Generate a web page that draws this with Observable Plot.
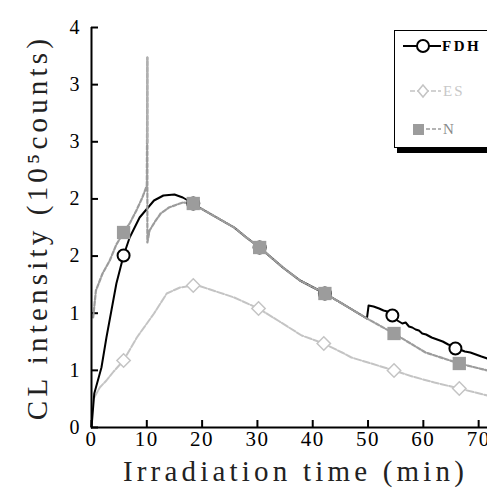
<!DOCTYPE html>
<html>
<head>
<meta charset="utf-8">
<script src="https://cdn.jsdelivr.net/npm/d3@7"></script>
<script src="https://cdn.jsdelivr.net/npm/@observablehq/plot@0.6"></script>
<style>
  html, body { margin: 0; padding: 0; background: #fff; }
  #wrap { position: relative; width: 487px; height: 492px; overflow: hidden; background: #fff; }
  #legend { position: absolute; left: 394px; top: 30px; width: 120px; height: 116px;
            border: 1px solid #000; background: #fff; box-shadow: 3px 5px 0 #000; }
</style>
</head>
<body>
<div id="wrap"><div id="chart"></div><div id="legend"></div></div>
<script>
// ---- data ----
const fdhT = [0, 0.5, 1.8, 2.7, 3.6, 4.5, 5.8, 6.9, 8.7, 11.3, 13.0, 15.0, 16.5, 18.4, 19.8, 22.0, 25.8, 28.0, 30.4, 34.6, 37.7, 42.2, 45.3, 49.8, 50.1, 51.0, 52.0, 52.8, 53.5, 54.4, 55.0, 55.6, 56.2, 56.8, 57.4, 58.0, 58.6, 59.2, 59.8, 60.5, 61.5, 62.5, 63.5, 64.5, 65.0, 65.8, 66.6, 67.5, 68.5, 69.5, 70.5, 71.6];
const fdhY = [0, 0.34, 0.6, 0.9, 1.17, 1.44, 1.72, 1.9, 2.1, 2.27, 2.32, 2.33, 2.30, 2.24, 2.19, 2.12, 2.0, 1.90, 1.80, 1.60, 1.47, 1.34, 1.24, 1.09, 1.22, 1.21, 1.19, 1.17, 1.16, 1.12, 1.08, 1.06, 1.04, 1.05, 1.01, 1.00, 0.98, 0.97, 0.94, 0.93, 0.90, 0.88, 0.86, 0.83, 0.82, 0.79, 0.78, 0.76, 0.75, 0.73, 0.71, 0.69];

const nT = [0.3, 0.8, 2.0, 3.3, 4.5, 5.8, 7.0, 8.2, 9.2, 10.0, 10.1, 10.1, 10.5, 11.5, 12.5, 14.0, 16.5, 18.4, 19.8, 22.0, 25.8, 28.0, 30.4, 34.6, 37.7, 42.2, 45.3, 49.8, 54.7, 60.4, 66.5, 71.6];
const nY = [1.1, 1.37, 1.54, 1.67, 1.83, 1.95, 2.05, 2.18, 2.3, 2.42, 3.70, 1.85, 1.97, 2.06, 2.14, 2.2, 2.25, 2.24, 2.19, 2.12, 2.0, 1.90, 1.80, 1.60, 1.47, 1.34, 1.24, 1.09, 0.94, 0.75, 0.64, 0.57];
// upper, solid part of the N spike at 10 min
const spikeT = [10.1, 10.1];
const spikeY = [2.85, 3.70];

const esT = [0.5, 1.5, 2.7, 4.0, 5.8, 8.2, 11.3, 13.6, 16.0, 18.4, 19.8, 22.0, 25.8, 30.2, 34.0, 38.0, 42.0, 45.3, 47.0, 50.0, 54.7, 58.0, 62.0, 66.5, 71.6];
const esY = [0.3, 0.4, 0.47, 0.56, 0.67, 0.9, 1.14, 1.34, 1.40, 1.42, 1.41, 1.37, 1.30, 1.19, 1.06, 0.92, 0.84, 0.75, 0.70, 0.65, 0.57, 0.51, 0.45, 0.39, 0.32];

const fdhMarkT = [5.8, 18.4, 30.4, 42.2, 54.4, 65.8];
const fdhMarkY = [1.72, 2.24, 1.80, 1.34, 1.12, 0.79];
const esMarkT = [5.8, 18.4, 30.2, 42.0, 54.7, 66.5];
const esMarkY = [0.67, 1.42, 1.19, 0.84, 0.57, 0.39];
const nMarkT = [5.8, 18.4, 30.4, 42.2, 54.7, 66.5];
const nMarkY = [1.95, 2.24, 1.80, 1.34, 0.94, 0.64];

const xTickValues = [0, 10, 20, 30, 40, 50, 60, 70];
const yTickValues = [0, 4/7, 8/7, 12/7, 16/7, 20/7, 24/7, 4];
const yTickLabels = ["0", "1", "1", "2", "2", "3", "3", "4"];
const xLabel = ["Irradiation time (min)"];
const yLabel = ["CL intensity (10\u2075counts)"];
const seriesNames = ["FDH", "ES", "N"];

// ---- build tables ----
const zip = (t, y) => t.map((v, i) => ({t: v, y: y[i]}));
const fdh = zip(fdhT, fdhY), nn = zip(nT, nY), es = zip(esT, esY), spike = zip(spikeT, spikeY);
const fdhM = zip(fdhMarkT, fdhMarkY), esM = zip(esMarkT, esMarkY), nM = zip(nMarkT, nMarkY);

const serif = "'Liberation Serif', 'Times New Roman', serif";

const chart = Plot.plot({
  width: 487,
  height: 492,
  marginLeft: 91,
  marginRight: 0,
  marginTop: 27,
  marginBottom: 65,
  style: {fontFamily: serif, background: "#fff", color: "#000", overflow: "visible"},
  x: {domain: [0, 71.6]},
  y: {domain: [0, 4]},
  marks: [
    Plot.axisX(xTickValues, {tickSize: -7, tickPadding: 11, fontSize: 21, strokeWidth: 2, label: null}),
    Plot.axisY(yTickValues, {tickSize: -7, tickPadding: 19, fontSize: 20, strokeWidth: 2, label: null,
      tickFormat: d => yTickLabels[yTickValues.indexOf(d)]}),
    Plot.line(es, {x: "t", y: "y", stroke: "#c4c4c4", strokeWidth: 2, strokeDasharray: "7,2"}),
    Plot.line(fdh, {x: "t", y: "y", stroke: "#000", strokeWidth: 2}),
    Plot.line(nn, {x: "t", y: "y", stroke: "#9c9c9c", strokeWidth: 2.2, strokeDasharray: "4,2"}),
    Plot.line(spike, {x: "t", y: "y", stroke: "#b0b0b0", strokeWidth: 2}),
    Plot.dot(fdhM, {x: "t", y: "y", r: 6, stroke: "#000", strokeWidth: 2, fill: "#fff", symbol: "circle"}),
    Plot.dot(esM, {x: "t", y: "y", r: 6, stroke: "#c4c4c4", strokeWidth: 1.5, fill: "#fff", symbol: "diamond2"}),
    Plot.dot(nM, {x: "t", y: "y", r: 7.5, fill: "#9c9c9c", stroke: "none", symbol: "square"}),
    Plot.ruleX([0], {stroke: "#000", strokeWidth: 2}),
    Plot.ruleY([0], {stroke: "#000", strokeWidth: 2}),
    Plot.text(xLabel, {text: d => d, frameAnchor: "bottom", textAnchor: "middle", dy: 53, dx: 6, fontSize: 29, fill: "#222"}),
    Plot.text(yLabel, {text: d => d, frameAnchor: "left", textAnchor: "middle", dx: -54, rotate: -90, fontSize: 29, fill: "#222"})
  ]
});
document.getElementById("chart").appendChild(chart);

// letter spacing of the wide serif lettering
d3.select(chart).selectAll("text").each(function() {
  const s = this.textContent;
  if (s === xLabel[0] || s === yLabel[0]) d3.select(this).style("letter-spacing", "4.2px");
});
d3.select(chart).selectAll('g[aria-label="x-axis tick label"] text').style("letter-spacing", "1.5px");

// ---- legend (inside plot area, top right) ----
const lg = d3.select("#legend").append("svg").attr("width", 120).attr("height", 116)
  .style("position", "absolute").style("left", "0px").style("top", "0px");
// FDH
lg.append("line").attr("x1", 8).attr("x2", 46).attr("y1", 15).attr("y2", 15).attr("stroke", "#000").attr("stroke-width", 2);
lg.append("circle").attr("cx", 28).attr("cy", 15).attr("r", 6).attr("fill", "#fff").attr("stroke", "#000").attr("stroke-width", 2);
lg.append("text").attr("x", 47).attr("y", 20).text(seriesNames[0])
  .attr("font-family", serif).attr("font-size", 15).attr("font-weight", "bold").attr("letter-spacing", "2.5px").attr("fill", "#000");
// ES
lg.append("line").attr("x1", 15).attr("x2", 46).attr("y1", 60).attr("y2", 60).attr("stroke", "#c4c4c4").attr("stroke-width", 1.5).attr("stroke-dasharray", "5,2");
lg.append("path").attr("d", "M28,54L33,60L28,66L23,60Z").attr("fill", "#fff").attr("stroke", "#c4c4c4").attr("stroke-width", 1.5);
lg.append("text").attr("x", 48).attr("y", 65).text(seriesNames[1])
  .attr("font-family", serif).attr("font-size", 15).attr("letter-spacing", "2px").attr("fill", "#c8c8c8");
// N
lg.append("line").attr("x1", 19).attr("x2", 46).attr("y1", 98).attr("y2", 98).attr("stroke", "#9c9c9c").attr("stroke-width", 1.5).attr("stroke-dasharray", "4,2");
lg.append("rect").attr("x", 18).attr("y", 93).attr("width", 11).attr("height", 11).attr("fill", "#9c9c9c");
lg.append("text").attr("x", 48).attr("y", 103).text(seriesNames[2])
  .attr("font-family", serif).attr("font-size", 15).attr("letter-spacing", "1px").attr("fill", "#8a8a8a");
</script>
</body>
</html>
